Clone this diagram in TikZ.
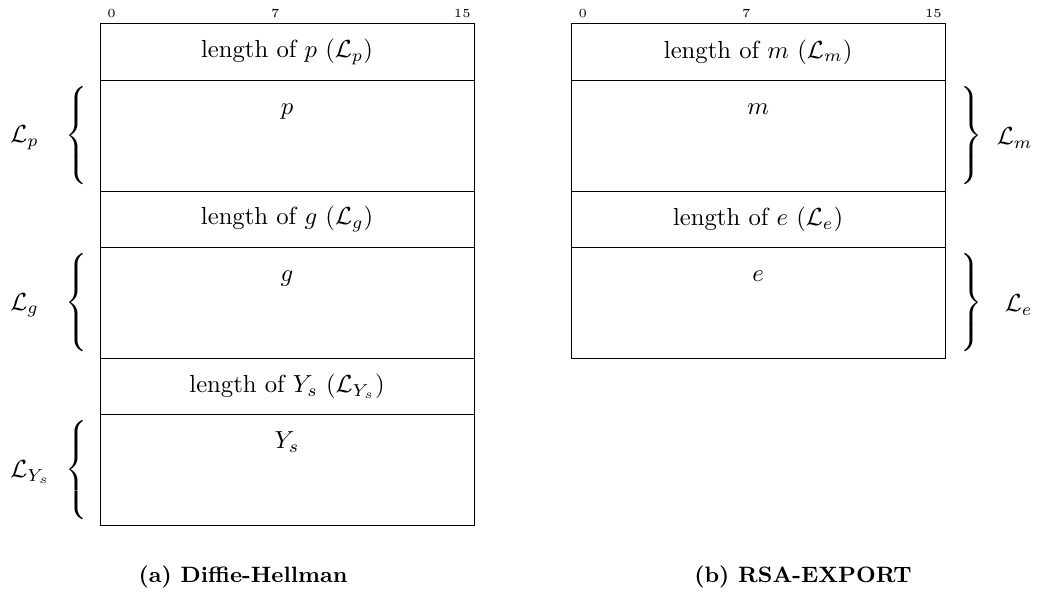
\documentclass[tikz,border=0pt]{standalone}
\usepackage{amsmath,amssymb}
\usepackage{graphicx}
\usepackage{tikz}
\usetikzlibrary{positioning}

\begin{document}
\begin{tikzpicture}[
  node distance=0pt,
  lenrow/.style={rectangle, draw=black, minimum width=151.5pt, minimum height=22.7pt, inner sep=0pt, outer sep=0pt},
  valrow/.style={rectangle, draw=black, minimum width=151.5pt, minimum height=45pt, inner sep=0pt, outer sep=0pt},
  vlab/.style={anchor=base, inner sep=0pt},
  bitnum/.style={font=\tiny, anchor=base, inner sep=0pt},
  grp/.style={inner sep=0pt},
  glab/.style={inner sep=0pt},
  capt/.style={font=\small\bfseries, anchor=base, inner sep=0pt}
]
\useasboundingbox (0,0) rectangle (420pt,-240.6pt);

% (a) Diffie-Hellman
\node[lenrow, anchor=north west] (dhlp) at (40.5pt,-9.7pt) {length of $p$ ($\mathcal{L}_p$)};
\node[valrow, below=of dhlp] (dhp) {};
\node[lenrow, below=of dhp] (dhlg) {length of $g$ ($\mathcal{L}_g$)};
\node[valrow, below=of dhlg] (dhg) {};
\node[lenrow, below=of dhg] (dhly) {length of $Y_s$ ($\mathcal{L}_{Y_s}$)};
\node[valrow, below=of dhly] (dhy) {};
\node[vlab] (dhptxt) at ([yshift=-13.8pt]dhp.north) {$p$};
\node[vlab] (dhgtxt) at ([yshift=-13.8pt]dhg.north) {$g$};
\node[vlab] (dhytxt) at ([yshift=-13.8pt]dhy.north) {$Y_s$};
\foreach \b in {0,7,15}
  \node[bitnum] (dhbit\b) at ([xshift={(\b+0.5)*9.469pt}, yshift=2.8pt]dhlp.north west) {\b};
\foreach \f/\l in {p/p, g/g, y/Y_s} {
  \node[grp, anchor=east] (dh\f br) at ([xshift=-3.6pt]dh\f.west) {\scalebox{1}[0.952]{$\left\{\rule[-17.5pt]{0pt}{40pt}\right.$}};
  \node[glab, anchor=west] (dh\f grp) at ([xshift=-36.5pt, yshift=-1pt]dh\f.west) {$\mathcal{L}_{\l}$};
}
\node[capt] (dhcap) at ([xshift=-17.8pt, yshift=-23.1pt]dhy.south) {(a) Diffie-Hellman};

% (b) RSA-EXPORT
\node[lenrow, anchor=north west] (rsalm) at (231.3pt,-9.7pt) {length of $m$ ($\mathcal{L}_m$)};
\node[valrow, below=of rsalm] (rsam) {};
\node[lenrow, below=of rsam] (rsale) {length of $e$ ($\mathcal{L}_e$)};
\node[valrow, below=of rsale] (rsae) {};
\node[vlab] (rsamtxt) at ([yshift=-13.8pt]rsam.north) {$m$};
\node[vlab] (rsaetxt) at ([yshift=-13.8pt]rsae.north) {$e$};
\foreach \b in {0,7,15}
  \node[bitnum] (rsabit\b) at ([xshift={(\b+0.5)*9.469pt}, yshift=2.8pt]rsalm.north west) {\b};
\foreach \f in {m,e} {
  \node[grp, anchor=west] (rsa\f br) at ([xshift=4.9pt]rsa\f.east) {\scalebox{1}[0.952]{$\left.\rule[-17.5pt]{0pt}{40pt}\right\}$}};
  \node[glab, anchor=east] (rsa\f grp) at ([xshift=35.6pt, yshift=-1pt]rsa\f.east) {$\mathcal{L}_{\f}$};
}
\node[capt] (rsacap) at ([xshift=18.2pt]dhcap.base -| rsae.south) {(b) RSA-EXPORT};
\end{tikzpicture}
\end{document}
